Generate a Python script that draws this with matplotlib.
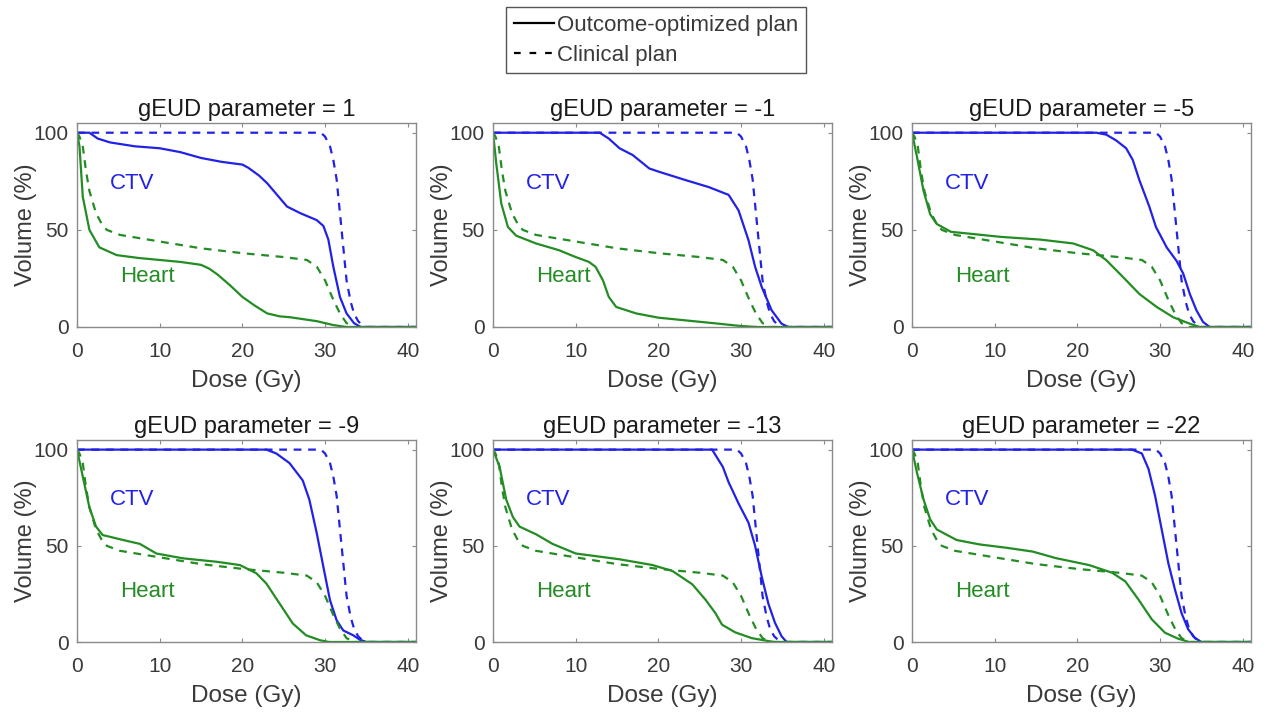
import matplotlib
matplotlib.use("Agg")
import matplotlib.pyplot as plt
from matplotlib.lines import Line2D

plt.rcParams['font.family'] = ['Liberation Sans', 'DejaVu Sans']

# ---------------- data (dose in Gy, volume in %) ----------------
titles = ["gEUD parameter = 1", "gEUD parameter = -1", "gEUD parameter = -5",
          "gEUD parameter = -9", "gEUD parameter = -13", "gEUD parameter = -22"]

# Clinical plan (same in all panels)
clin_ctv_x = [0, 29.5, 30.0, 30.6, 31.0, 31.4, 32.0, 32.6, 33.1, 33.5, 34.0, 34.5, 35.0, 41]
clin_ctv_y = [100, 100, 98, 93, 86, 76, 50, 24, 13, 7, 3, 1, 0, 0]
clin_heart_x = [0, 0.3, 0.7, 1.1, 1.5, 2.3, 3.0, 3.6, 5.2, 10, 15, 20, 25, 27.8, 29, 30, 31, 31.8, 32.6, 33.5, 41]
clin_heart_y = [100, 98, 93, 80, 70, 58.6, 53, 50, 47.4, 44, 40.5, 38, 36, 34.5, 31, 24, 14, 7, 2, 0, 0]

# Outcome-optimized plans, one per panel
opt_ctv_x = [
    [0, 1.5, 2.5, 4, 7, 10, 12.5, 15, 17.5, 20, 20.7, 22, 23, 24.2, 25.4, 27, 29, 29.8, 30.4, 31, 31.8, 32.6, 33.5, 34.3, 41],
    [0, 12.9, 14, 15.3, 16.9, 18.9, 20, 23.3, 26.1, 28.5, 29.7, 30.9, 31.7, 32.5, 33.7, 34.9, 35.7, 41],
    [0, 22.3, 23.5, 24.7, 25.9, 26.7, 27.5, 28.7, 29.5, 30.8, 32, 32.8, 33.6, 34.4, 35.2, 36, 41],
    [0, 22.9, 24.1, 25.7, 27.3, 28.1, 29, 29.8, 30.6, 31.4, 32.2, 33.4, 34.2, 35, 41],
    [0, 26.5, 27.8, 28.5, 29.7, 30.9, 31.7, 32.5, 33.3, 34.1, 34.9, 35.5, 41],
    [0, 26.6, 27.8, 28.6, 29.4, 30.2, 31, 31.8, 32.6, 33.4, 34.2, 35, 41],
]
opt_ctv_y = [
    [100, 100, 97, 95, 93, 92, 90, 87, 85, 83.6, 82, 78, 74, 68, 62, 58.6, 55, 52, 45, 31, 15.5, 7, 2, 0, 0],
    [100, 100, 97, 92, 88.5, 81.6, 80, 75.6, 72, 68, 60, 44.7, 31, 20.6, 8.6, 1.7, 0, 0],
    [100, 100, 99, 96, 92, 86, 75.6, 62, 51.5, 41, 34, 27.5, 17, 8.6, 2.6, 0, 0],
    [100, 100, 98, 93, 84, 74, 56.5, 39, 21.7, 11.3, 6, 3.5, 1.2, 0, 0],
    [100, 100, 91, 83, 72, 62, 50, 34, 20, 10, 3, 0, 0],
    [100, 100, 98, 90, 76, 58.5, 41, 27.3, 15, 6.6, 2.2, 0, 0],
]
opt_heart_x = [
    [0, 0.3, 0.7, 1.5, 2.7, 4.8, 7.5, 10, 12.5, 15, 16, 17, 18.5, 20, 21.5, 23, 24.5, 25.8, 29, 31, 32.6, 41],
    [0, 0.4, 1.0, 1.8, 2.8, 5.2, 8, 10, 11.6, 12.4, 13.3, 14, 14.9, 17.3, 20, 23.3, 27.3, 30, 32, 41],
    [0, 0.6, 1.4, 2.2, 3.0, 4.7, 7.5, 10.7, 15.5, 19.5, 21.9, 23.5, 25.5, 27.5, 29.6, 31.6, 33.6, 34.8, 41],
    [0, 0.7, 1.5, 2.3, 3.1, 5.6, 7.6, 9.6, 12.8, 16.9, 19.7, 21.7, 22.9, 24.5, 26.1, 27.7, 29.4, 30.5, 41],
    [0, 0.8, 1.6, 2.4, 3.2, 5.2, 7.2, 10, 15.3, 19.3, 21.7, 24.1, 25.7, 26.9, 27.7, 29.3, 31.3, 33.3, 34, 41],
    [0, 0.6, 1.4, 2.2, 3.0, 5.4, 8.2, 11.4, 14.6, 17.4, 21.4, 24.2, 25.8, 27.4, 29, 30.6, 32.2, 33.5, 41],
]
opt_heart_y = [
    [100, 93, 67, 50, 41, 37, 35.5, 34.5, 33.5, 32, 30, 27, 21.5, 15.5, 11, 7, 5.5, 5, 3, 1, 0, 0],
    [100, 84, 63.6, 51.5, 47, 43, 39.5, 36, 33.5, 31, 24, 15.5, 10.3, 7, 4.8, 3.4, 1.7, 0.5, 0, 0],
    [100, 87.6, 70, 58, 53, 49, 47.8, 46.4, 45, 43, 39.5, 34.4, 25.8, 17, 10.3, 5, 1.7, 0, 0],
    [100, 86, 70, 60, 55.6, 53, 51, 46, 43.5, 41.7, 40, 35.7, 30.4, 20, 9.6, 3.5, 0.9, 0, 0],
    [100, 91, 74, 65, 60, 56, 51, 46, 43, 40, 36.9, 30, 22, 15, 9, 5, 2, 0.5, 0, 0],
    [100, 88, 74, 63.7, 58.5, 53, 50.7, 49, 47, 43.6, 40, 36, 31.5, 22, 11.8, 4.8, 1.7, 0, 0],
]

xticks = [0, 10, 20, 30, 40]
yticks = [0, 50, 100]

# ---------------- styling ----------------
BLUE = '#2222e6'
GREEN = '#238c23'
TXT = '#3a3a3a'
SPINE = '#8a8a8a'

fig = plt.figure(figsize=(12.66, 7.18), dpi=100)
W, H = 1266, 718
lefts = [77, 493, 912]
rows = [(123, 327), (440, 642)]

for i in range(6):
    r, c = divmod(i, 3)
    x0 = lefts[c]
    top, bot = rows[r]
    ax = fig.add_axes([x0 / W, 1 - bot / H, 339 / W, (bot - top) / H])
    ax.plot(opt_ctv_x[i], opt_ctv_y[i], color=BLUE, lw=1.6)
    ax.plot(clin_ctv_x, clin_ctv_y, color=BLUE, lw=1.6, dashes=(3.5, 3))
    ax.plot(opt_heart_x[i], opt_heart_y[i], color=GREEN, lw=1.6)
    ax.plot(clin_heart_x, clin_heart_y, color=GREEN, lw=1.6, dashes=(3.5, 3))
    ax.set_xlim(0, 41)
    ax.set_ylim(0, 105)
    ax.set_xticks(xticks)
    ax.set_yticks(yticks)
    ax.tick_params(direction='in', top=True, right=True, length=3, width=0.8,
                   colors=SPINE, labelcolor=TXT, labelsize=15)
    ax.tick_params(axis='x', pad=11)
    ax.tick_params(axis='y', pad=6)
    for s in ax.spines.values():
        s.set_color(SPINE)
        s.set_linewidth(1.0)
    ax.set_title(titles[i], fontsize=17, color='#1a1a1a', pad=5)
    ax.set_xlabel("Dose (Gy)", fontsize=17.5, color=TXT, labelpad=6)
    ax.set_ylabel("Volume (%)", fontsize=17, color=TXT, labelpad=-2.5)
    ax.text(4.0, 74, "CTV", color=BLUE, fontsize=16, va='center', ha='left')
    ax.text(5.2, 26, "Heart", color=GREEN, fontsize=16, va='center', ha='left')

handles = [Line2D([], [], color='black', lw=1.6),
           Line2D([], [], color='black', lw=1.6, dashes=(3, 4))]
leg = fig.legend(handles, ["Outcome-optimized plan", "Clinical plan"],
                 loc='upper center', bbox_to_anchor=(656 / W, 1 - 7 / H),
                 fontsize=16, frameon=True, fancybox=False, framealpha=1,
                 edgecolor='#555555', handlelength=1.8, handletextpad=0.15,
                 borderpad=0.35, labelspacing=0.4, borderaxespad=0)
for t in leg.get_texts():
    t.set_color(TXT)
leg.get_frame().set_linewidth(1.0)

fig.savefig("out.png", dpi=100)
